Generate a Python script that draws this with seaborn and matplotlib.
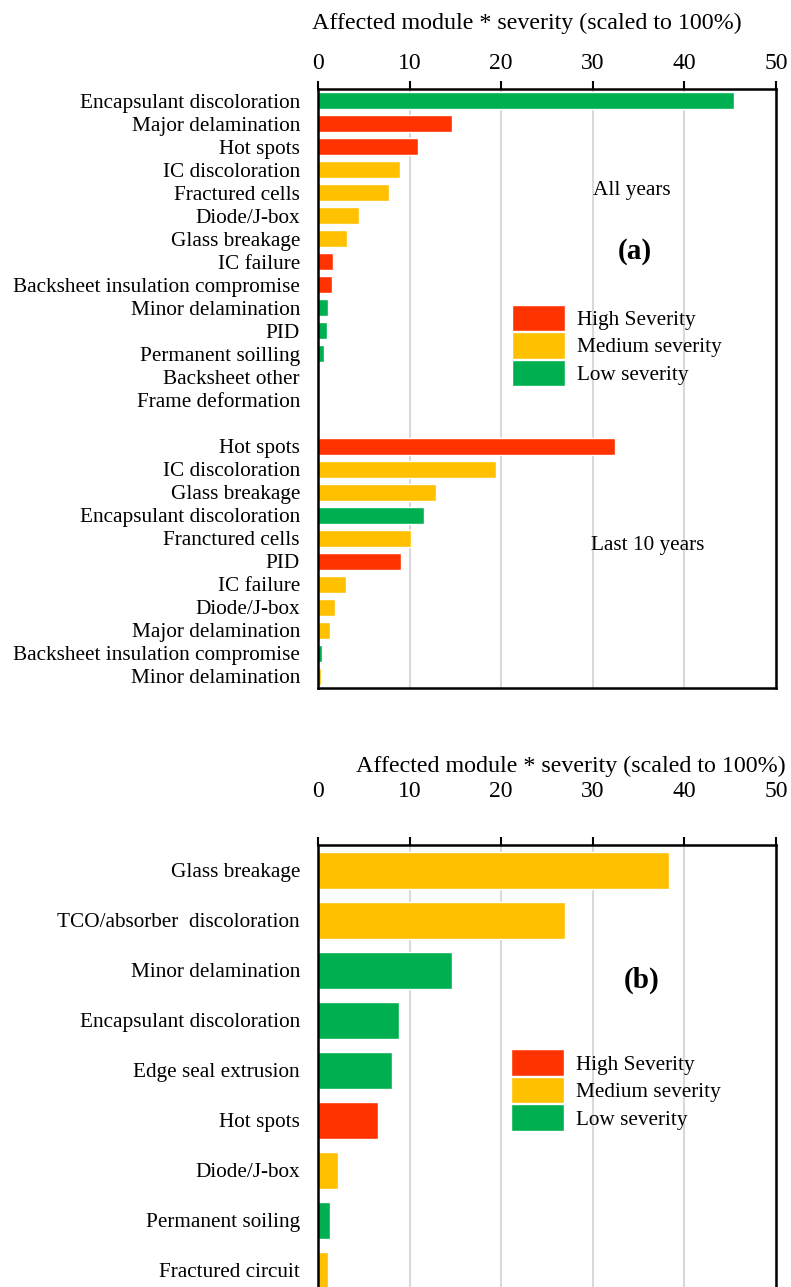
import matplotlib
matplotlib.use("Agg")
import matplotlib.pyplot as plt
from matplotlib.patches import Patch
import seaborn as sns
import pandas as pd

# ---------------- data ----------------
all_years_labels = ["Encapsulant discoloration", "Major delamination", "Hot spots",
                    "IC discoloration", "Fractured cells", "Diode/J-box", "Glass breakage",
                    "IC failure", "Backsheet insulation compromise", "Minor delamination",
                    "PID", "Permanent soilling", "Backsheet other", "Frame deformation"]
all_years_values = [45.4, 14.6, 10.9, 8.9, 7.7, 4.5, 3.2, 1.65, 1.5, 1.1, 1.0, 0.65, 0.1, 0.0]
all_years_sev = ["Low", "High", "High", "Medium", "Medium", "Medium", "Medium",
                 "High", "High", "Low", "Low", "Low", "Low", "Low"]

last10_labels = ["Hot spots", "IC discoloration", "Glass breakage", "Encapsulant discoloration",
                 "Franctured cells", "PID", "IC failure", "Diode/J-box", "Major delamination",
                 "Backsheet insulation compromise", "Minor delamination"]
last10_values = [32.4, 19.45, 12.9, 11.6, 10.2, 9.1, 3.1, 1.9, 1.3, 0.45, 0.35]
last10_sev = ["High", "Medium", "Medium", "Low", "Medium", "High", "Medium", "Medium",
              "Medium", "Low", "Medium"]

thin_labels = ["Glass breakage", "TCO/absorber  discoloration", "Minor delamination",
               "Encapsulant discoloration", "Edge seal extrusion", "Hot spots", "Diode/J-box",
               "Permanent soiling", "Fractured circuit"]
thin_values = [38.3, 27.0, 14.6, 8.85, 8.05, 6.6, 2.15, 1.3, 1.05]
thin_sev = ["Medium", "Medium", "Low", "Low", "Low", "High", "Medium", "Low", "Medium"]

x_ticks = [0, 10, 20, 30, 40, 50]
xlabel = "Affected module * severity (scaled to 100%)"
sev_levels = ["High", "Medium", "Low"]
legend_labels = ["High Severity", "Medium severity", "Low severity"]
palette = {"High": "#FF3300", "Medium": "#FFC000", "Low": "#00B050"}

# ---------------- style ----------------
sns.set_theme(style="white")
plt.rcParams["font.family"] = ["Liberation Serif", "DejaVu Serif"]
plt.rcParams["text.color"] = "black"
plt.rcParams["axes.labelcolor"] = "black"
plt.rcParams["xtick.color"] = "black"
plt.rcParams["ytick.color"] = "black"
FS = 15.3       # category labels, legend, annotations
FS_TICK = 17.0  # numeric tick labels
FS_TITLE = 17.3 # axis title

fig = plt.figure(figsize=(7.91, 12.87), dpi=100)

# ---------- panel (a) ----------
keys_a = [f"a{i}" for i in range(len(all_years_labels))]
keys_b = [f"b{i}" for i in range(len(last10_labels))]
df_a = pd.DataFrame({
    "key": keys_a + keys_b,
    "value": all_years_values + last10_values,
    "sev": all_years_sev + last10_sev,
})
order_a = keys_a + ["gap"] + keys_b
ax1 = fig.add_axes([318 / 791, (1287 - 688) / 1287, 458 / 791, 599 / 1287])
sns.barplot(data=df_a, y="key", x="value", hue="sev", order=order_a,
            hue_order=sev_levels, palette=palette, dodge=False, width=0.74,
            orient="h", saturation=1, legend=False, ax=ax1, zorder=3)
ax1.set_yticks(range(len(order_a)))
ax1.set_yticklabels(all_years_labels + [""] + last10_labels, fontsize=FS)
ax1.set_ylim(len(order_a) - 0.5, -0.5)

# ---------- panel (b) ----------
df_b = pd.DataFrame({"label": thin_labels, "value": thin_values, "sev": thin_sev})
ax2 = fig.add_axes([318 / 791, (1287 - 1295) / 1287, 458 / 791, 450 / 1287])
sns.barplot(data=df_b, y="label", x="value", hue="sev", order=thin_labels,
            hue_order=sev_levels, palette=palette, dodge=False, width=0.74,
            orient="h", saturation=1, legend=False, ax=ax2, zorder=3)
ax2.set_ylim(len(thin_labels) - 0.5, -0.5)
ax2.tick_params(axis="y", labelsize=FS)

for ax, pad, lab_y, lab_x in [(ax1, 5, 1.10, 0.457), (ax2, 25, 1.163, 0.552)]:
    ax.set_xlim(0, 50)
    ax.set_xticks(x_ticks)
    ax.xaxis.tick_top()
    ax.xaxis.set_label_position("top")
    ax.tick_params(axis="x", direction="out", length=6, width=1.5, color="black",
                   labelsize=FS_TICK, pad=pad, top=True, bottom=False)
    ax.tick_params(axis="y", length=0, pad=13)
    ax.set_ylabel("")
    ax.set_xlabel(xlabel, fontsize=FS_TITLE)
    ax.xaxis.set_label_coords(lab_x, lab_y)
    ax.grid(axis="x", color="#d9d9d9", linewidth=1.5, zorder=0)
    ax.grid(axis="y", visible=False)
    for s in ax.spines.values():
        s.set_color("black")
        s.set_linewidth(1.8)
        s.set_visible(True)
        s.set_zorder(5)

# annotations
ax1.text(34.3, 3.9, "All years", fontsize=FS, ha="center", va="center")
ax1.text(34.6, 6.55, "(a)", fontsize=21, fontweight="bold", ha="center", va="center")
ax1.text(36.0, 19.3, "Last 10 years", fontsize=FS, ha="center", va="center")
ax2.text(35.3, 2.2, "(b)", fontsize=21, fontweight="bold", ha="center", va="center")

handles = [Patch(facecolor=palette[s], edgecolor="white", linewidth=1.0) for s in sev_levels]
for ax, x0, y0 in [(ax1, 0.424, 0.640), (ax2, 0.422, 0.546)]:
    ax.legend(handles, legend_labels, loc="upper left", bbox_to_anchor=(x0, y0),
              frameon=False, fontsize=FS, handlelength=2.5, handleheight=1.55,
              labelspacing=0.04, handletextpad=0.55, borderpad=0, borderaxespad=0)

fig.savefig("out.png", dpi=100)
